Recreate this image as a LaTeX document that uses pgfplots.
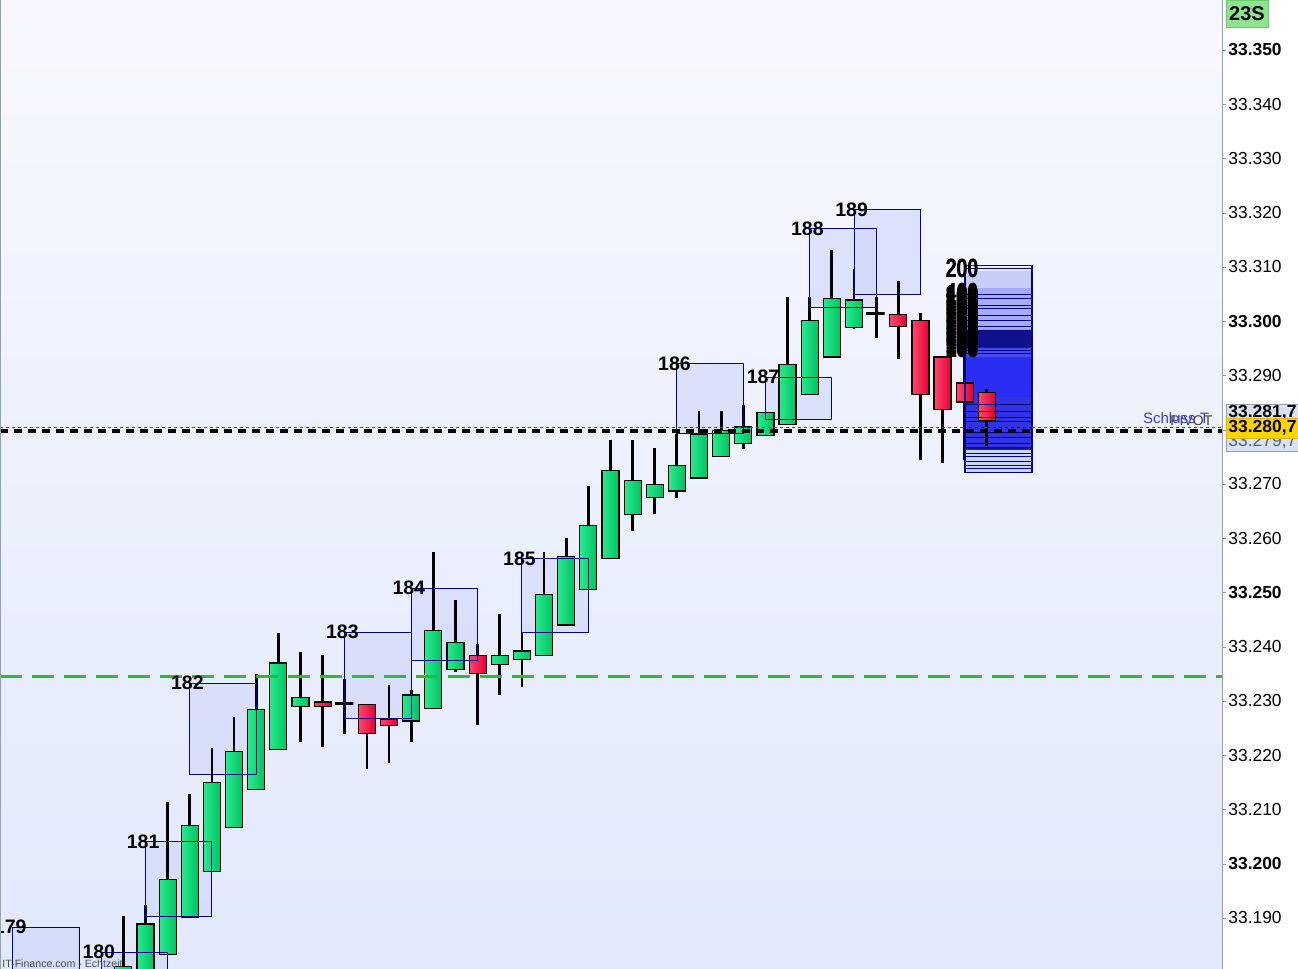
\documentclass[border=0pt]{standalone}
\usepackage{pgfplots}
\pgfplotsset{compat=1.18}
\usepackage{fontspec}
\setmainfont{Liberation Sans}
\definecolor{bgtop}{RGB}{247,248,255}
\definecolor{bgbot}{RGB}{226,233,251}
\definecolor{gl}{RGB}{40,234,142}
\definecolor{gd}{RGB}{0,194,96}
\definecolor{rl}{RGB}{255,72,112}
\definecolor{rd}{RGB}{228,0,52}
\definecolor{navy}{RGB}{0,0,140}
\definecolor{boxfill}{RGB}{205,212,250}
\definecolor{dgreen}{RGB}{60,178,60}
\definecolor{axgray}{RGB}{150,160,170}
\definecolor{vp1}{RGB}{236,238,255}
\definecolor{vp2}{RGB}{200,205,248}
\definecolor{vp3}{RGB}{165,172,243}
\definecolor{vp4}{RGB}{16,16,140}
\definecolor{vp5}{RGB}{70,76,232}
\definecolor{vp6}{RGB}{42,46,244}
\definecolor{vp7}{RGB}{50,52,228}
\definecolor{vp9}{RGB}{205,210,248}
\definecolor{schluss}{RGB}{60,60,220}
\tikzset{
  cg/.style={left color=gl, right color=gd},
  cr/.style={left color=rl, right color=rd},
  ck/.style={line width=1.3pt},
}

% candle: index, open, high, low, close, colour (g / r / k)
\newcommand{\candle}[6]{%
  \pgfmathsetmacro{\xl}{#1-0.384}%
  \pgfmathsetmacro{\xr}{#1+0.384}%
  \edef\tmp{%
   \noexpand\addplot[black, line width=1.4pt, forget plot] coordinates {(#1,#3) (#1,#4)};%
   \noexpand\addplot[draw=black, line width=0.6pt, line cap=rect, c#6, forget plot] coordinates {(\xl,#2) (\xr,#2) (\xr,#5) (\xl,#5) (\xl,#2)};%
  }\tmp}
% numbered box: left index, top, bottom
\newcommand{\boxfill}[3]{%
  \pgfmathsetmacro{\xr}{#1+3}%
  \edef\tmp{\noexpand\addplot[fill=boxfill, fill opacity=0.55, draw=none, forget plot] coordinates {(#1,#2) (\xr,#2) (\xr,#3) (#1,#3) (#1,#2)};}\tmp}
\newcommand{\boxline}[3]{%
  \pgfmathsetmacro{\xr}{#1+3}%
  \edef\tmp{\noexpand\addplot[draw=navy, line width=0.5pt, forget plot] coordinates {(#1,#2) (\xr,#2) (\xr,#3) (#1,#3) (#1,#2)};}\tmp}
\newcommand{\band}[3]{%
  \addplot[fill=#3, draw=none, forget plot] coordinates {(38.01,#1) (41.04,#1) (41.04,#2) (38.01,#2) (38.01,#1)};}

\begin{document}
\begin{tikzpicture}
\begin{axis}[
  at={(0,0)}, anchor=south west,
  width=611pt, height=484.5pt, scale only axis,
  xmin=-5.572, xmax=49.62, ymin=33180.6, ymax=33359.22,
  axis x line=none,
  axis y line*=right,
  y axis line style={draw=axgray},
  ytick={33190,33200,33210,33220,33230,33240,33250,33260,33270,33280,33290,33300,33310,33320,33330,33340,33350},
  yticklabels={33.190,\textbf{33.200},33.210,33.220,33.230,33.240,\textbf{33.250},33.260,33.270,33.280,33.290,\textbf{33.300},33.310,33.320,33.330,33.340,\textbf{33.350}},
  tick align=outside, major tick length=2pt,
  ytick style={draw=axgray},
  yticklabel style={font=\fontsize{8.7}{10}\selectfont, anchor=west, inner xsep=0pt, xshift=1pt},
  axis background/.style={top color=bgtop, bottom color=bgbot},
]
% numbered boxes (fill)
\boxfill{-5}{33188.34}{33170}
\boxfill{-1}{33183.7}{33170}
\boxfill{1}{33204.1}{33190.2}
\boxfill{3}{33233.3}{33216.5}
\boxfill{10}{33242.7}{33226.8}
\boxfill{13}{33250.8}{33237.5}
\boxfill{18}{33256.3}{33242.7}
\boxfill{25}{33292.2}{33279.4}
\boxfill{29}{33289.7}{33281.9}
\boxfill{31}{33317.1}{33302.6}
\boxfill{33}{33320.6}{33305.0}
% volume profile bands
\band{33309.3}{33310.3}{vp1}
\band{33306.1}{33309.3}{vp2}
\band{33298.4}{33306.1}{vp3}
\band{33295.1}{33298.4}{vp4}
\band{33293.4}{33295.1}{vp5}
\band{33286.0}{33293.4}{vp6}
\band{33276.8}{33286.0}{vp7}
\band{33276.3}{33276.8}{vp4}
\band{33272.1}{33276.3}{vp9}
% candles
\candle{0}{33175}{33190.4}{33174}{33181.0}{g}
\candle{1}{33176}{33192.4}{33175}{33188.9}{g}
\candle{2}{33183.2}{33211.4}{33183.2}{33197.1}{g}
\candle{3}{33190.2}{33212.9}{33190.2}{33207.1}{g}
\candle{4}{33198.6}{33221.3}{33198.6}{33215.0}{g}
\candle{5}{33206.7}{33227.0}{33206.7}{33220.7}{g}
\candle{6}{33213.7}{33235.0}{33213.7}{33228.5}{g}
\candle{7}{33221.1}{33242.5}{33221.1}{33237.0}{g}
\candle{8}{33229.0}{33239.0}{33222.4}{33230.7}{g}
\candle{9}{33229.8}{33238.5}{33221.5}{33229.0}{r}
\candle{10}{33229.5}{33234.0}{33224.0}{33229.5}{k}
\candle{11}{33229.4}{33229.4}{33217.4}{33224.0}{r}
\candle{12}{33226.7}{33233.0}{33218.5}{33225.5}{r}
\candle{13}{33226.3}{33232.0}{33222.4}{33231.1}{g}
\candle{14}{33228.6}{33257.4}{33228.6}{33243.0}{g}
\candle{15}{33235.8}{33248.6}{33235.4}{33240.8}{g}
\candle{16}{33238.4}{33240.5}{33225.5}{33235.1}{r}
\candle{17}{33236.8}{33246.0}{33231.1}{33238.4}{g}
\candle{18}{33237.7}{33242.5}{33232.5}{33239.2}{g}
\candle{19}{33238.4}{33257.5}{33238.4}{33249.7}{g}
\candle{20}{33244.0}{33260.0}{33244.0}{33256.7}{g}
\candle{21}{33250.5}{33269.6}{33250.5}{33262.4}{g}
\candle{22}{33256.3}{33278.1}{33256.3}{33272.5}{g}
\candle{23}{33264.4}{33278.1}{33261.4}{33270.7}{g}
\candle{24}{33267.5}{33276.6}{33264.4}{33269.9}{g}
\candle{25}{33268.7}{33279.3}{33267.5}{33273.4}{g}
\candle{26}{33271.1}{33283.4}{33271.1}{33279.2}{g}
\candle{27}{33275.1}{33283.4}{33275.1}{33279.9}{g}
\candle{28}{33277.5}{33284.6}{33276.5}{33280.5}{g}
\candle{29}{33279.0}{33283.2}{33279.0}{33283.2}{g}
\candle{30}{33281.0}{33304.5}{33281.0}{33292.1}{g}
\candle{31}{33286.5}{33304.5}{33286.5}{33300.2}{g}
\candle{32}{33293.4}{33313.1}{33293.4}{33304.2}{g}
\candle{33}{33298.9}{33309.6}{33298.5}{33303.9}{g}
\candle{34}{33301.4}{33304.5}{33297.0}{33301.4}{k}
\candle{35}{33301.3}{33307.5}{33293.0}{33299.1}{r}
\candle{36}{33300.2}{33301.5}{33274.4}{33286.5}{r}
\candle{37}{33293.4}{33293.6}{33273.9}{33283.7}{r}
\candle{38}{33288.6}{33293.4}{33274.4}{33285.1}{r}
\candle{39}{33286.9}{33287.5}{33277.0}{33281.6}{r}
% volume profile stripes and frame
\pgfplotsinvokeforeach{33272.8,33273.5,33274.2,33275.0,33275.6,33277.5,33278.5,33279.6,33280.4,33281.5,33282.3,33283.4,33284.6,33294.0,33294.6,33299.0,33300.2,33301.0,33302.3,33303.0,33304.2,33305.0,33309.8}{
  \addplot[navy, line width=0.4pt, forget plot] coordinates {(38.01,#1) (41.04,#1)};
}
\addplot[draw=navy, line width=0.7pt, forget plot] coordinates {(38.01,33272.1) (41.04,33272.1) (41.04,33310.3) (38.01,33310.3) (38.01,33272.1)};
% numbered boxes (frames)
\boxline{-5}{33188.34}{33170}
\boxline{-1}{33183.7}{33170}
\boxline{1}{33204.1}{33190.2}
\boxline{3}{33233.3}{33216.5}
\boxline{10}{33242.7}{33226.8}
\boxline{13}{33250.8}{33237.5}
\boxline{18}{33256.3}{33242.7}
\boxline{25}{33292.2}{33279.4}
\boxline{29}{33289.7}{33281.9}
\boxline{31}{33317.1}{33302.6}
\boxline{33}{33320.6}{33305.0}
% horizontal lines
\addplot[dgreen, line width=1.5pt, dash pattern=on 11pt off 5pt, forget plot] coordinates {(-5.572,33234.6) (49.62,33234.6)};
\addplot[schluss, line width=0.5pt, dash pattern=on 1.5pt off 1.5pt, forget plot] coordinates {(-5.572,33280.5) (49.62,33280.5)};
\addplot[black, line width=1.8pt, dash pattern=on 3.8pt off 3.2pt, forget plot] coordinates {(-5.572,33279.8) (49.62,33279.8)};
% box labels
\begin{scope}[every node/.style={font=\bfseries\fontsize{9.75}{11}\selectfont, inner sep=0pt, xshift=-1.2pt}]
\node at (axis cs:-5,33188.34) {179};
\node at (axis cs:-1,33183.7) {180};
\node at (axis cs:1,33204.1) {181};
\node at (axis cs:3,33233.3) {182};
\node at (axis cs:10,33242.7) {183};
\node at (axis cs:13,33250.8) {184};
\node at (axis cs:18,33256.3) {185};
\node at (axis cs:25,33292.2) {186};
\node at (axis cs:29,33289.7) {187};
\node at (axis cs:31,33317.1) {188};
\node at (axis cs:33,33320.6) {189};
\end{scope}
% volume profile labels (many overlapping counts)
\begin{scope}[every node/.style={font=\bfseries\fontsize{9.75}{11}\selectfont, inner sep=0pt}]
\pgfplotsinvokeforeach{33295.0,33295.5,33296.0,33296.5,33297.0,33297.5,33298.0,33298.5,33299.0,33299.5,33300.0,33300.5,33301.0,33301.5,33302.0,33302.5,33303.0,33303.5,33304.0,33304.5,33305.0}{
  \node at (axis cs:37.86,#1) {\scalebox{1}[1.35]{100}};
  \node at (axis cs:37.90,#1) {\scalebox{1}[1.35]{100}};
}
\node at (axis cs:37.88,33305.3) {\scalebox{1}[1.35]{400}};
\node at (axis cs:37.87,33309.8) {\scalebox{1}[1.35]{200}};
\node at (axis cs:37.89,33309.8) {\scalebox{1}[1.35]{200}};
\end{scope}
\node[anchor=east, font=\fontsize{7}{8}\selectfont, text=black!75, inner sep=0pt] at (axis cs:49.2,33281.6) {PIVOT};
\node[anchor=east, font=\fontsize{7.5}{9}\selectfont, text=schluss, inner sep=0pt] at (axis cs:49.05,33282.2) {Schluss T};
\draw[axgray, line width=0.6pt] (rel axis cs:0,0) -- (rel axis cs:0,1);
\end{axis}
% right side annotations
\draw[fill={rgb,255:red,140;green,228;blue,140}, draw={rgb,255:red,110;green,200;blue,110}] (613pt,484.5pt) rectangle (634pt,471pt);
\node[font=\bfseries\fontsize{10}{12}\selectfont, inner sep=0pt] at (623.5pt,477.8pt) {23S};
\draw[fill={rgb,255:red,218;green,226;blue,242}, draw=axgray] (613pt,282.5pt) rectangle (649.5pt,259pt);
\node[font=\bfseries\fontsize{8.75}{10}\selectfont, inner sep=0pt, anchor=west] at (614pt,278.3pt) {33.281,7};
\node[font=\fontsize{8.75}{10}\selectfont, text={rgb,255:red,80;green,96;blue,130}, inner sep=0pt, anchor=west] at (614pt,263.5pt) {33.279,7};
\draw[fill={rgb,255:red,255;green,212;blue,0}, draw={rgb,255:red,230;green,180;blue,0}] (613pt,275.5pt) rectangle (649.5pt,265.5pt);
\node[font=\bfseries\fontsize{8.75}{10}\selectfont, inner sep=0pt, anchor=west] at (614pt,270.5pt) {33.280,7};
\node[font=\fontsize{5.3}{6}\selectfont, text=black!70, inner sep=0pt, anchor=south west] at (1pt,0.3pt) {IT-Finance.com - Echtzeit};
\pgfresetboundingbox
\path[use as bounding box] (0,0) rectangle (649pt,484.5pt);
\end{tikzpicture}
\end{document}
